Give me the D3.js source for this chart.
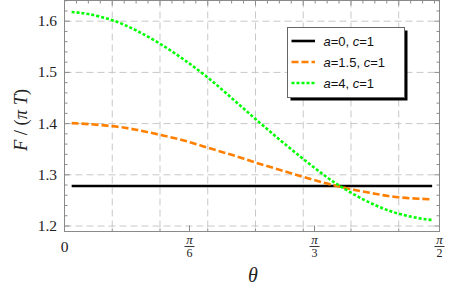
<!DOCTYPE html>
<html><head><meta charset="utf-8">
<script src="https://cdn.jsdelivr.net/npm/d3@7"></script>
<style>body{margin:0;background:#fff}svg{display:block}</style>
</head><body>
<script>
const theta = [0.03,0.1,0.2,0.3,0.4,0.5,0.6,0.7,0.8,0.9,1.0,1.1,1.2,1.3,1.4,1.5,1.54];
const seriesA0 = [1.278,1.278,1.278,1.278,1.278,1.278,1.278,1.278,1.278,1.278,1.278,1.278,1.278,1.278,1.278,1.278,1.278];
const seriesA15 = [1.401,1.399,1.395,1.388,1.378,1.367,1.353,1.339,1.324,1.310,1.296,1.283,1.272,1.263,1.256,1.253,1.252];
const seriesA4 = [1.618,1.614,1.602,1.582,1.556,1.525,1.490,1.450,1.409,1.369,1.331,1.295,1.265,1.241,1.224,1.214,1.212];
const legendLabels = [["a","=0, ","c","=1"],["a","=1.5, ","c","=1"],["a","=4, ","c","=1"]];
const yTicks = [1.2,1.3,1.4,1.5,1.6];
const xTickDenoms = [6,3,2];
const gridX = [0.2,0.4,0.6,0.8,1.0,1.2,1.4];

const W=473,H=296;
const svg=d3.select("body").append("svg").attr("width",W).attr("height",H);
const L=64.5,R=439.5,T=0.5,B=231.5;
const x=d3.scaleLinear().domain([0,Math.PI/2]).range([L,R]);
const y=d3.scaleLinear().domain([1.2,1.6]).range([226,21.2]);

// grid
const g=svg.append("g");
gridX.forEach(v=>g.append("line").attr("x1",x(v)).attr("x2",x(v)).attr("y1",T).attr("y2",B)
  .attr("stroke","#c8c8c8").attr("stroke-dasharray","7,4"));
yTicks.forEach(v=>g.append("line").attr("x1",L).attr("x2",R).attr("y1",y(v)).attr("y2",y(v))
  .attr("stroke","#c8c8c8").attr("stroke-dasharray","7,4"));

// frame
svg.append("rect").attr("x",L).attr("y",T).attr("width",R-L).attr("height",B-T)
  .attr("fill","none").attr("stroke","#8a8a8a").attr("stroke-width",1);

// y ticks (left & right)
const yMinor=d3.range(1.20,1.641,0.02);
yMinor.forEach(v=>{
  const major=Math.abs(v*10-Math.round(v*10))<1e-6;
  const len=major?5:3;
  svg.append("line").attr("x1",L).attr("x2",L+len).attr("y1",y(v)).attr("y2",y(v)).attr("stroke","#8a8a8a");
  svg.append("line").attr("x1",R).attr("x2",R-len).attr("y1",y(v)).attr("y2",y(v)).attr("stroke","#8a8a8a");
});
yTicks.forEach(v=>svg.append("text").attr("x",57).attr("y",y(v)+5).attr("text-anchor","end")
  .attr("font-family","Liberation Serif").attr("font-size",15.5).attr("fill","#222").text(v.toFixed(1)));

// x ticks: top every 0.05
d3.range(0.05,1.56,0.05).forEach(v=>{
  const major=Math.abs(v*5-Math.round(v*5))<1e-6;
  svg.append("line").attr("x1",x(v)).attr("x2",x(v)).attr("y1",T).attr("y2",T+(major?5:3)).attr("stroke","#8a8a8a");
});
// bottom minor at grid
gridX.forEach(v=>svg.append("line").attr("x1",x(v)).attr("x2",x(v)).attr("y1",B).attr("y2",B-3).attr("stroke","#8a8a8a"));
// bottom major at pi/n
xTickDenoms.forEach(d=>{
  const xv=x(Math.PI/d);
  svg.append("line").attr("x1",xv).attr("x2",xv).attr("y1",B).attr("y2",B-6).attr("stroke","#8a8a8a");
  svg.append("text").attr("x",xv).attr("y",243.5).attr("text-anchor","middle").attr("font-family","Liberation Serif")
    .attr("font-style","italic").attr("font-size",13).attr("fill","#222").text("π");
  svg.append("line").attr("x1",xv-5).attr("x2",xv+5).attr("y1",246.5).attr("y2",246.5).attr("stroke","#222").attr("stroke-width",0.9);
  svg.append("text").attr("x",xv).attr("y",257).attr("text-anchor","middle").attr("font-family","Liberation Serif")
    .attr("font-size",12).attr("fill","#222").text(d);
});
svg.append("text").attr("x",x(0)).attr("y",252).attr("text-anchor","middle").attr("font-family","Liberation Serif")
  .attr("font-size",15.5).attr("fill","#222").text("0");

// axis labels
svg.append("text").attr("x",253).attr("y",282).attr("text-anchor","middle").attr("font-family","Liberation Serif")
  .attr("font-style","italic").attr("font-size",20).attr("fill","#222").text("θ");
const yl=svg.append("text").attr("transform","translate(27,120) rotate(-90)").attr("text-anchor","middle")
  .attr("font-family","Liberation Serif").attr("font-size",18.5).attr("fill","#222");
yl.append("tspan").attr("font-style","italic").text("F");
yl.append("tspan").text(" / (");
yl.append("tspan").attr("font-style","italic").text("π T");
yl.append("tspan").text(")");

// curves
const series=[
  {vals:seriesA0,color:"#000",dash:null},
  {vals:seriesA15,color:"#ff8000",dash:"7,3"},
  {vals:seriesA4,color:"#00ff00",dash:"3,2"}
];
const line=d3.line().x(d=>x(d[0])).y(d=>y(d[1])).curve(d3.curveNatural);
series.forEach(s=>{
  svg.append("path").datum(theta.map((t,i)=>[t,s.vals[i]])).attr("d",line).attr("fill","none")
    .attr("stroke",s.color).attr("stroke-width",2.6).attr("stroke-dasharray",s.dash);
});

// legend
const lx=287.5,ly=27.5,lw=117,lh=70;
svg.append("rect").attr("x",lx+3).attr("y",ly+3).attr("width",lw).attr("height",lh).attr("fill","#000");
svg.append("rect").attr("x",lx).attr("y",ly).attr("width",lw).attr("height",lh).attr("fill","#fff").attr("stroke","#666");
series.forEach((s,i)=>{
  const yy=ly+13.5+i*21;
  svg.append("line").attr("x1",lx+4).attr("x2",lx+27.5).attr("y1",yy).attr("y2",yy)
    .attr("stroke",s.color).attr("stroke-width",2.6).attr("stroke-dasharray",s.dash);
  const t=svg.append("text").attr("x",lx+36).attr("y",yy+4.5).attr("font-family","Liberation Sans")
    .attr("font-size",13).attr("fill","#111");
  legendLabels[i].forEach((p,j)=>t.append("tspan").attr("font-style",j%2===0?"italic":"normal").text(p));
});
</script>
</body></html>
